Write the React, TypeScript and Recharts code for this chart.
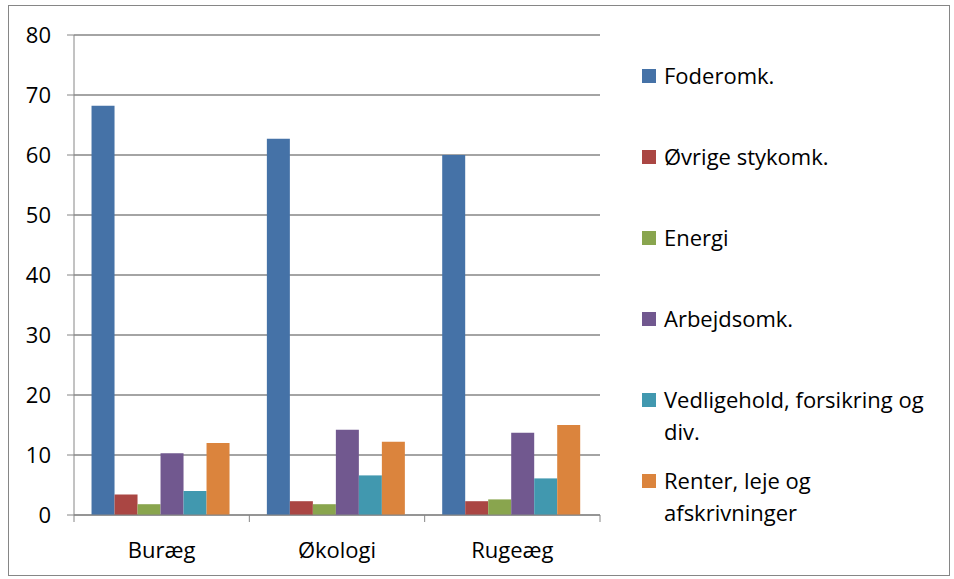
import React from 'react';
import { BarChart, Bar, XAxis, YAxis, CartesianGrid, Legend } from 'recharts';

const categories = ['Buræg', 'Økologi', 'Rugeæg'];
const foderomk = [68.2, 62.7, 60.0];
const oevrigeStykomk = [3.4, 2.3, 2.3];
const energi = [1.8, 1.8, 2.6];
const arbejdsomk = [10.3, 14.2, 13.7];
const vedligehold = [4.0, 6.6, 6.1];
const renter = [12.0, 12.2, 15.0];
const yTicks = [0, 10, 20, 30, 40, 50, 60, 70, 80];

const series = [
  { key: 'foderomk', name: 'Foderomk.', values: foderomk, color: '#4572A7' },
  { key: 'oevrige', name: 'Øvrige stykomk.', values: oevrigeStykomk, color: '#AA4643' },
  { key: 'energi', name: 'Energi', values: energi, color: '#89A54E' },
  { key: 'arbejd', name: 'Arbejdsomk.', values: arbejdsomk, color: '#71588F' },
  { key: 'vedl', name: 'Vedligehold, forsikring og div.', values: vedligehold, color: '#4198AF' },
  { key: 'renter', name: 'Renter, leje og afskrivninger', values: renter, color: '#DB843D' },
];

const data = categories.map((cat, i) => {
  const row: any = { name: cat };
  series.forEach((s) => {
    row[s.key] = s.values[i];
  });
  return row;
});

const FONT = '"Open Sans", sans-serif';
const AXIS = '#868686';
const LEGEND_W = 312;

// category tick: label in the middle, tick marks at the band edges
const CategoryTick = (props: any) => {
  const { x, y, payload, index } = props;
  const half = payload.offset || 0;
  return (
    <g>
      <line x1={x - half} x2={x - half} y1={y} y2={y + 7} stroke={AXIS} />
      {index === categories.length - 1 && (
        <line x1={x + half} x2={x + half} y1={y} y2={y + 7} stroke={AXIS} />
      )}
      <text x={x} y={y + 43} textAnchor="middle" fill="#000" fontSize={22} fontFamily={FONT}>
        {payload.value}
      </text>
    </g>
  );
};

// legend kept in series order (recharts would sort it by name)
const LegendList = () => (
  <div style={{ fontFamily: FONT, fontSize: 22, color: '#000' }}>
    {series.map((s) => (
      <div key={s.key} style={{ display: 'flex', height: 81, alignItems: 'flex-start' }}>
        <div style={{ width: 14, height: 14, marginTop: 10, marginRight: 8, background: s.color, flexShrink: 0 }} />
        <div style={{ lineHeight: '32px', width: 272 }}>{s.name}</div>
      </div>
    ))}
  </div>
);

export default function App() {
  return (
    <div style={{ position: 'absolute', left: 0, top: 0, width: 954, height: 579, background: '#fff' }}>
      <div
        style={{
          position: 'absolute',
          left: 8,
          top: 5,
          width: 942,
          height: 571,
          border: `1px solid ${AXIS}`,
          boxSizing: 'border-box',
        }}
      />
      <BarChart
        width={954}
        height={579}
        data={data}
        margin={{ top: 35, right: 354 - LEGEND_W, bottom: 34, left: 0 }}
        barCategoryGap="10%"
        barGap={0}
      >
        <CartesianGrid vertical={false} stroke={AXIS} strokeWidth={1.5} />
        <XAxis
          dataKey="name"
          height={30}
          stroke={AXIS}
          tickLine={false}
          tickSize={0}
          tickMargin={0}
          tick={<CategoryTick />}
          interval={0}
        />
        <YAxis
          width={74}
          domain={[0, 80]}
          ticks={yTicks}
          stroke={AXIS}
          tickSize={7}
          tickMargin={16}
          tick={{ fill: '#000', fontSize: 22, fontFamily: FONT }}
        />
        <Legend
          layout="vertical"
          verticalAlign="top"
          align="right"
          wrapperStyle={{ top: 59, left: 642, width: LEGEND_W }}
          content={<LegendList />}
        />
        {series.map((s) => (
          <Bar key={s.key} dataKey={s.key} name={s.name} fill={s.color} isAnimationActive={false} />
        ))}
      </BarChart>
    </div>
  );
}
